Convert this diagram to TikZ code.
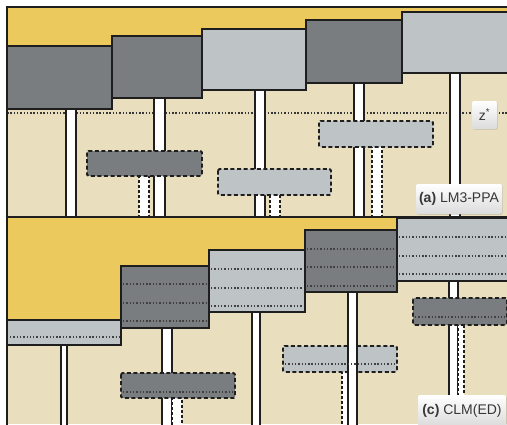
\documentclass[tikz,border=0pt]{standalone}
\usepackage{fontspec}
\newfontfamily\tagfont{Liberation Sans}
\usepackage{tikz}
\usetikzlibrary{shadows}
\definecolor{skyyellow}{RGB}{236,201,92}
\definecolor{groundtan}{RGB}{233,222,190}
\definecolor{crowndark}{RGB}{121,125,127}
\definecolor{crownlight}{RGB}{190,195,198}
\definecolor{edgegray}{RGB}{30,30,30}
\definecolor{tagtext}{RGB}{55,55,55}

\begin{document}
\begin{tikzpicture}[x=1pt,y=-1pt,
    crown/.style={draw=edgegray,line width=2pt},
    under/.style={draw=edgegray,line width=1.9pt,rounded corners=1.5pt,
                  dash pattern=on 4pt off 2.6pt},
    trunk/.style={fill=white,draw=edgegray,line width=1.8pt},
    sapling/.style={fill=white,draw=edgegray,line width=1.8pt,
                    dash pattern=on 2.8pt off 2.2pt},
    layer/.style={edgegray!85,line width=1.5pt,dash pattern=on 1.4pt off 1.9pt},
    zline/.style={edgegray!90,line width=1.6pt,dash pattern=on 1.5pt off 1.8pt},
    frame/.style={draw=edgegray,line width=1.8pt},
    tag/.style={rounded corners=2pt,top color=white,bottom color=black!14,
                drop shadow={opacity=0.25,shadow xshift=0.8pt,shadow yshift=-0.8pt},
                text=tagtext,font=\tagfont\fontsize{14}{14}\selectfont,
                inner sep=0pt,align=center}]
  \useasboundingbox (0,0) rectangle (507,424);
  \fill[white] (0,0) rectangle (507,424);
  \clip (0,0) rectangle (507,424);

  % ---- top panel: LM3-PPA ----
  \fill[groundtan] (7,7) rectangle (507,217);
  \fill[skyyellow] (7,7) -- (507,7) -- (507,12) -- (402,12) -- (402,20)
    -- (306,20) -- (306,29) -- (202,29) -- (202,36) -- (112,36) -- (112,46)
    -- (7,46) -- cycle;
  \draw[zline] (7,113) -- (507,113);

  % stems of the canopy trees
  \draw[trunk] (66,100) rectangle (76,218);
  \draw[trunk] (154,90) rectangle (165,218);
  \draw[trunk] (255,80) rectangle (265,218);
  \draw[trunk] (354,75) rectangle (364,218);
  \draw[trunk] (450,65) rectangle (460,218);

  % understory trees
  \draw[sapling] (139,170) rectangle (149,219);
  \draw[sapling] (270,190) rectangle (280,219);
  \draw[sapling] (372,140) rectangle (382,219);
  \draw[under,fill=crowndark] (87,151) rectangle (202,176);
  \draw[under,fill=crownlight] (218,169) rectangle (331,195);
  \draw[under,fill=crownlight] (319,121) rectangle (433,147);

  % canopy crowns
  \draw[crown,fill=crowndark] (7,46) rectangle (112,109);
  \draw[crown,fill=crowndark] (112,36) rectangle (202,98);
  \draw[crown,fill=crownlight] (202,29) rectangle (306,90);
  \draw[crown,fill=crowndark] (306,20) rectangle (402,83);
  \draw[crown,fill=crownlight] (402,12) rectangle (512,73);

  \draw[frame] (7,7) rectangle (512,217);
  \node[tag,minimum width=25pt,minimum height=28pt] (zstar) at (484.5,115)
    {z\textsuperscript{*}};
  \node[tag,minimum width=86pt,minimum height=30pt] (tagA) at (459,199)
    {\textbf{(a)} LM3-PPA};

  % ---- bottom panel: CLM(ED) ----
  \fill[groundtan] (7,217) rectangle (507,424);
  \fill[skyyellow] (7,217) -- (507,217) -- (507,218) -- (397,218) -- (397,230)
    -- (305,230) -- (305,250) -- (209,250) -- (209,266) -- (121,266)
    -- (121,320) -- (7,320) -- cycle;

  % stems of the canopy trees
  \draw[trunk] (61,340) rectangle (67,430);
  \draw[trunk] (162,320) rectangle (172,430);
  \draw[trunk] (252,305) rectangle (260,430);
  \draw[trunk] (449,275) rectangle (458,430);

  % understory trees
  \draw[sapling] (172,392) rectangle (182,430);
  \draw[sapling] (342,366) rectangle (348,430);
  \draw[sapling] (458,318) rectangle (464,400);
  \draw[under,fill=crowndark] (121,373) rectangle (235,398);
  \draw[layer] (123,392) -- (233,392);
  \draw[under,fill=crownlight] (283,346) rectangle (397,372);
  \draw[trunk] (348,285) rectangle (357,430);
  \draw[layer] (285,364) -- (395,364);
  \draw[under,fill=crowndark] (413,298) rectangle (507,325);
  \draw[layer] (415,317) -- (505,317);

  % canopy crowns with their leaf layers
  \draw[crown,fill=crownlight] (7,320) rectangle (121,345);
  \draw[layer] (10,337) -- (119,337);
  \draw[crown,fill=crowndark] (121,266) rectangle (209,328);
  \foreach \y in {284,303,321} \draw[layer] (123,\y) -- (207,\y);
  \draw[crown,fill=crownlight] (209,250) rectangle (305,312);
  \foreach \y in {269,288,306} \draw[layer] (211,\y) -- (303,\y);
  \draw[crown,fill=crowndark] (305,230) rectangle (397,292);
  \foreach \y in {249,267,286} \draw[layer] (307,\y) -- (395,\y);
  \draw[crown,fill=crownlight] (397,218) rectangle (512,281);
  \foreach \y in {237,256,274} \draw[layer] (399,\y) -- (507,\y);

  \draw[frame] (7,217) rectangle (512,430);
  \node[tag,minimum width=88pt,minimum height=31pt] (tagC) at (462,410.5)
    {\textbf{(c)} CLM(ED)};
\end{tikzpicture}
\end{document}
